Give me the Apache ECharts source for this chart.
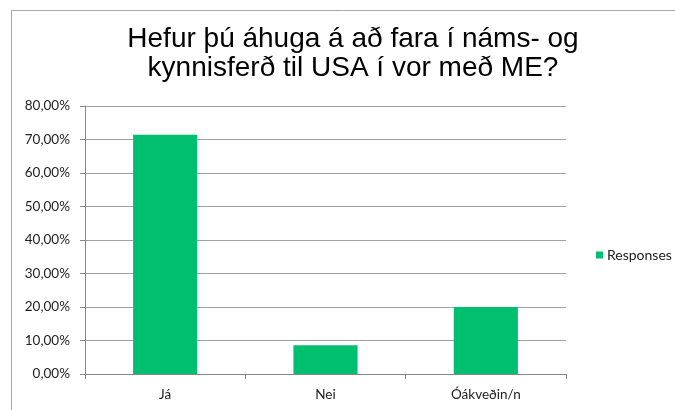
<!DOCTYPE html>
<html>
<head>
<meta charset="utf-8">
<script src="https://cdn.jsdelivr.net/npm/echarts@6/dist/echarts.min.js"></script>
<style>
  html, body { margin: 0; padding: 0; background: #fff; }
  #chart { width: 675px; height: 410px; }
</style>
</head>
<body>
<div id="chart"></div>
<script>
// survey answers, share of responses
const categories = ['Já', 'Nei', 'Óákveðin/n'];
const responses = [0.7143, 0.0857, 0.2];
const seriesName = 'Responses';
const titleText = 'Hefur þú áhuga á að fara í náms- og\nkynnisferð til USA í vor með ME?';

const chart = echarts.init(document.getElementById('chart'));

const fmtPct = v => (v * 100).toFixed(2).replace('.', ',') + '%';

chart.setOption({
    animation: false,
    graphic: [{
        type: 'rect',
        shape: { x: 11.5, y: 10.5, width: 800, height: 600 },
        style: { fill: 'none', stroke: '#a6a6a6', lineWidth: 1 },
        silent: true
    }],
    title: {
        text: titleText,
        left: 348,
        top: 20,
        textAlign: 'center',
        textStyle: {
            fontFamily: 'Liberation Sans',
            fontWeight: 'normal',
            fontSize: 28,
            lineHeight: 29,
            color: '#000'
        }
    },
    legend: {
        data: [seriesName],
        orient: 'vertical',
        left: 591,
        top: 243,
        icon: 'rect',
        itemWidth: 7,
        itemHeight: 7,
        itemGap: 4,
        textStyle: { fontFamily: 'Lato', fontSize: 14, color: '#222', padding: [0, 0, 0, -1] }
    },
    grid: { left: 85, right: 109, top: 106, bottom: 36 },
    xAxis: {
        type: 'category',
        data: categories,
        axisLine: { lineStyle: { color: '#888' } },
        axisTick: { show: true, length: 5, lineStyle: { color: '#888' } },
        axisLabel: { fontFamily: 'Lato', fontSize: 13.5, color: '#222', margin: 14 }
    },
    yAxis: {
        type: 'value',
        min: 0,
        max: 0.8,
        interval: 0.1,
        axisLine: { show: true, lineStyle: { color: '#888' } },
        axisTick: { show: true, length: 5, lineStyle: { color: '#888' } },
        splitLine: { lineStyle: { color: '#a0a0a0' } },
        axisLabel: { fontFamily: 'Lato', fontSize: 13.5, color: '#222', margin: 15, formatter: fmtPct }
    },
    series: [{
        name: seriesName,
        type: 'bar',
        data: responses,
        barWidth: '40%',
        itemStyle: { color: '#00bf6f' }
    }]
});
</script>
</body>
</html>
